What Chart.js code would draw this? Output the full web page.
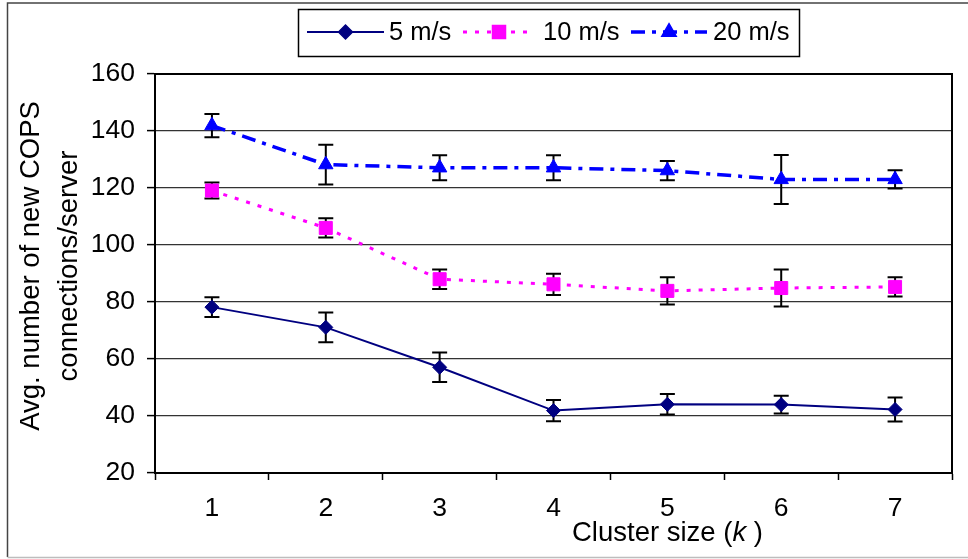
<!DOCTYPE html>
<html>
<head>
<meta charset="utf-8">
<title>COPS connections per server</title>
<script src="https://cdn.jsdelivr.net/npm/chart.js@4/dist/chart.umd.min.js"></script>
<style>
  html, body { margin: 0; padding: 0; background: #fff; }
  #wrap { position: relative; width: 968px; height: 559px; }
</style>
</head>
<body>
<div id="wrap"><canvas id="copsChart"></canvas></div>
<script>
// Cluster sizes on the x axis
const clusterSizes = ['1', '2', '3', '4', '5', '6', '7'];

// Mean new connections per server, one array per node speed
const speed5 = [78.2, 71.1, 57.1, 41.9, 44.1, 44.0, 42.3];
const speed10 = [119.1, 106.0, 88.0, 86.2, 83.9, 84.9, 85.3];
const speed20 = [141.9, 128.2, 127.1, 127.1, 126.1, 123.0, 123.0];

// Half-width of the error bars
const err5 = [3.5, 5.2, 5.2, 3.7, 3.6, 3.1, 4.2];
const err10 = [2.8, 3.4, 3.4, 3.7, 4.8, 6.5, 3.4];
const err20 = [4.1, 7.0, 4.4, 4.4, 3.4, 8.6, 3.2];

const yTicks = [20, 40, 60, 80, 100, 120, 140, 160];

const FONT = "'Liberation Sans', Arial, sans-serif";

// Vertical error bars, drawn below the markers
const errorBars = {
    id: 'errorBars',
    beforeDatasetsDraw(chart) {
        const ctx = chart.ctx;
        const y = chart.scales.y;
        ctx.save();
        ctx.strokeStyle = '#000';
        ctx.lineWidth = 2;
        chart.data.datasets.forEach((ds, i) => {
            const meta = chart.getDatasetMeta(i);
            meta.data.forEach((pt, j) => {
                const v = ds.data[j];
                const e = ds.errors[j];
                const top = y.getPixelForValue(v + e);
                const bot = y.getPixelForValue(v - e);
                ctx.beginPath();
                ctx.moveTo(pt.x, top);
                ctx.lineTo(pt.x, bot);
                ctx.moveTo(pt.x - 7.5, top);
                ctx.lineTo(pt.x + 7.5, top);
                ctx.moveTo(pt.x - 7.5, bot);
                ctx.lineTo(pt.x + 7.5, bot);
                ctx.stroke();
            });
        });
        ctx.restore();
    }
};

// Outer frame, plot frame, axis titles and the boxed key at the top
const decorations = {
    id: 'decorations',
    beforeDraw(chart) {
        const ctx = chart.ctx;
        ctx.save();
        ctx.fillStyle = '#fff';
        ctx.fillRect(0, 0, chart.width, chart.height);
        ctx.strokeStyle = '#444';
        ctx.lineWidth = 1.5;
        ctx.beginPath();
        ctx.moveTo(chart.width + 2, 3);
        ctx.lineTo(7.5, 3);
        ctx.lineTo(7.5, 557);
        ctx.stroke();
        ctx.strokeStyle = '#bdbdbd';
        ctx.beginPath();
        ctx.moveTo(7.5, 557.5);
        ctx.lineTo(chart.width + 2, 557.5);
        ctx.stroke();
        ctx.restore();
    },
    afterDraw(chart) {
        const ctx = chart.ctx;
        const a = chart.chartArea;
        ctx.save();

        // top and right edges of the plot area
        ctx.strokeStyle = '#000';
        ctx.lineWidth = 2;
        ctx.beginPath();
        ctx.moveTo(a.left, a.top);
        ctx.lineTo(a.right, a.top);
        ctx.lineTo(a.right, a.bottom);
        ctx.stroke();

        // y axis title, two lines
        ctx.fillStyle = '#000';
        ctx.font = '27.5px ' + FONT;
        ctx.textAlign = 'center';
        ctx.textBaseline = 'middle';
        ctx.save();
        ctx.translate(0, 266);
        ctx.rotate(-Math.PI / 2);
        ctx.fillText('Avg. number of new COPS', 0, 31);
        ctx.fillText('connections/server', 0, 69);
        ctx.restore();

        // x axis title with italic k
        ctx.textAlign = 'left';
        ctx.textBaseline = 'alphabetic';
        const part1 = 'Cluster size (';
        ctx.font = '27.5px ' + FONT;
        let x = 572;
        ctx.fillText(part1, x, 541);
        x += ctx.measureText(part1).width;
        ctx.font = 'italic 27.5px ' + FONT;
        ctx.fillText('k', x, 541);
        x += ctx.measureText('k').width;
        ctx.font = '27.5px ' + FONT;
        ctx.fillText(' )', x, 541);

        // key
        ctx.strokeStyle = '#000';
        ctx.lineWidth = 1.5;
        ctx.strokeRect(298.5, 9.5, 501, 47);
        const starts = [307, 463, 631];
        const lens = [77, 72, 76];
        const gaps = [5, 8, 6];
        const ky = 32;
        ctx.font = '25.5px ' + FONT;
        ctx.textBaseline = 'middle';
        chart.data.datasets.forEach((ds, i) => {
            const x0 = starts[i];
            const x1 = x0 + lens[i];
            ctx.save();
            ctx.strokeStyle = ds.borderColor;
            ctx.lineWidth = ds.borderWidth;
            ctx.setLineDash(ds.borderDash || []);
            ctx.beginPath();
            ctx.moveTo(x0, ky);
            ctx.lineTo(x1, ky);
            ctx.stroke();
            ctx.restore();
            ctx.save();
            ctx.fillStyle = ds.pointBackgroundColor;
            ctx.strokeStyle = ds.pointBorderColor;
            Chart.helpers.drawPoint(ctx, {
                pointStyle: ds.pointStyle,
                radius: ds.pointRadius,
                rotation: 0,
                borderWidth: 1
            }, (x0 + x1) / 2, ky);
            ctx.restore();
            ctx.fillStyle = '#000';
            ctx.fillText(ds.label, x1 + gaps[i], ky + 1);
        });
        ctx.restore();
    }
};

function makeSeries(label, data, errors, color, dash, width, style, radius) {
    return {
        label: label,
        data: data,
        errors: errors,
        borderColor: color,
        borderWidth: width,
        borderDash: dash,
        pointStyle: style,
        pointRadius: radius,
        pointHoverRadius: radius,
        pointBackgroundColor: color,
        pointBorderColor: color,
        pointBorderWidth: 1,
        tension: 0,
        fill: false
    };
}

const ctx = document.getElementById('copsChart').getContext('2d');

const chart = new Chart(ctx, {
    type: 'line',
    data: {
        labels: clusterSizes,
        datasets: [
            makeSeries('5 m/s', speed5, err5, '#000080', [], 2, 'rectRot', 7),
            makeSeries('10 m/s', speed10, err10, '#ff00ff', [4, 8], 3, 'rect', 9.2),
            makeSeries('20 m/s', speed20, err20, '#0000ff', [14, 7, 4, 7], 3.5, 'triangle', 8.3)
        ]
    },
    options: {
        responsive: true,
        maintainAspectRatio: false,
        animation: false,
        devicePixelRatio: 1,
        layout: {
            padding: { top: 74, right: 16, bottom: 0, left: 0 }
        },
        plugins: {
            legend: { display: false },
            tooltip: { enabled: false }
        },
        scales: {
            x: {
                type: 'category',
                offset: true,
                afterFit(scale) { scale.height = 86; },
                border: { display: true, color: '#000', width: 2 },
                grid: {
                    display: true,
                    offset: true,
                    drawOnChartArea: false,
                    drawTicks: true,
                    tickLength: 7,
                    tickColor: '#000',
                    tickWidth: 1.5
                },
                ticks: {
                    color: '#000',
                    font: { family: FONT, size: 26.5 },
                    padding: 13,
                    maxRotation: 0
                }
            },
            y: {
                min: 20,
                max: 160,
                afterFit(scale) { scale.width = 155; },
                afterBuildTicks(scale) {
                    scale.ticks = yTicks.map(v => ({ value: v }));
                },
                border: { display: true, color: '#000', width: 2 },
                grid: {
                    color: '#333',
                    lineWidth: 1.2,
                    drawTicks: true,
                    tickLength: 8,
                    tickColor: '#000',
                    tickWidth: 1.5
                },
                ticks: {
                    color: '#000',
                    font: { family: FONT, size: 26.5 },
                    padding: 12
                }
            }
        }
    },
    plugins: [errorBars, decorations]
});
</script>
</body>
</html>
